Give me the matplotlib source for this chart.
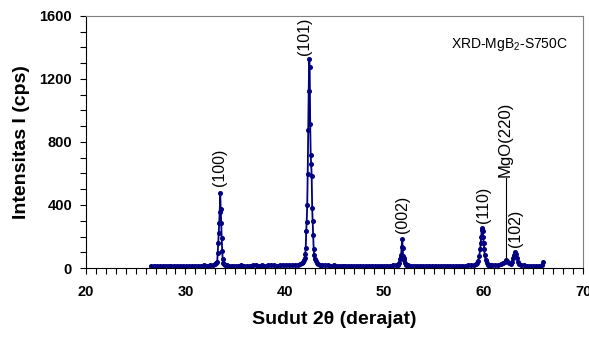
import numpy as np
import matplotlib
matplotlib.use("Agg")
import matplotlib.pyplot as plt
from matplotlib.ticker import MultipleLocator

plt.rcParams['font.family'] = ['Liberation Sans', 'DejaVu Sans']
plt.rcParams['mathtext.fontset'] = 'custom'
plt.rcParams['mathtext.rm'] = 'Liberation Sans'
plt.rcParams['mathtext.it'] = 'Liberation Sans:italic'

# XRD scan (2theta in degrees, counts in cps)
two_theta = [
    26.5, 26.8, 27.1, 27.4, 27.7, 28.0, 28.3, 28.6, 28.9, 29.2, 29.5, 29.8,
    30.1, 30.4, 30.7, 31.0, 31.3, 31.6, 31.9, 32.2, 32.5, 32.8, 33.0, 33.1,
    33.2, 33.25, 33.3, 33.35, 33.4, 33.45, 33.5, 33.55, 33.6, 33.65, 33.7,
    33.75, 33.8, 33.9, 34.0, 34.2,
    34.4, 34.7, 35.0, 35.3, 35.6, 35.9, 36.2, 36.5, 36.8, 37.1, 37.4, 37.7,
    38.0, 38.3, 38.6, 38.9, 39.2, 39.5, 39.8, 40.1, 40.4, 40.7, 41.0, 41.3,
    41.5, 41.7, 41.8,
    41.9, 42.0, 42.05, 42.1, 42.15, 42.2, 42.25, 42.3, 42.35, 42.4, 42.45,
    42.5, 42.55, 42.6, 42.65, 42.7, 42.75, 42.8, 42.85, 42.9, 42.95, 43.0,
    43.1, 43.2, 43.3, 43.5, 43.7,
    44.0, 44.3, 44.6, 44.9, 45.2, 45.5, 45.8, 46.1, 46.4, 46.7, 47.0, 47.3,
    47.6, 47.9, 48.2, 48.5, 48.8, 49.1, 49.4, 49.7, 50.0, 50.3, 50.6, 50.9,
    51.2, 51.4,
    51.5, 51.6, 51.65, 51.7, 51.75, 51.8, 51.85, 51.9, 51.95, 52.0, 52.1,
    52.2, 52.4,
    52.7, 53.0, 53.3, 53.6, 53.9, 54.2, 54.5, 54.8, 55.1, 55.4, 55.7, 56.0,
    56.3, 56.6, 56.9, 57.2, 57.5, 57.8, 58.1, 58.4, 58.7, 59.0, 59.2, 59.35,
    59.45, 59.55, 59.65, 59.7, 59.75, 59.8, 59.85, 59.9, 59.95, 60.0, 60.05,
    60.1, 60.2, 60.3, 60.4, 60.6,
    60.8, 61.1, 61.4, 61.7, 61.9, 62.1, 62.2, 62.3, 62.5, 62.7, 62.85, 62.95,
    63.05, 63.15, 63.25, 63.35, 63.45, 63.6, 63.8, 64.1, 64.4, 64.7, 65.0,
    65.3, 65.6, 65.85, 66.0,
]
counts = [
    15, 14, 16, 15, 14, 16, 15, 14, 15, 16, 14, 15,
    15, 14, 16, 15, 15, 16, 17, 16, 18, 20, 25, 30,
    40, 97, 157, 220, 284, 358, 474, 372, 284, 188, 110,
    55, 35, 25, 20, 17,
    16, 15, 16, 15, 17, 16, 15, 16, 17, 18, 16, 17,
    16, 17, 18, 17, 16, 17, 18, 18, 17, 19, 20, 22,
    25, 30, 38,
    50, 63, 90, 125, 235, 295, 400, 597, 876, 1126, 1325,
    1278, 914, 718, 660, 584, 381, 300, 210, 121, 83, 60,
    45, 35, 28, 22, 20,
    18, 17, 16, 17, 16, 15, 16, 15, 16, 15, 15, 16,
    15, 14, 15, 16, 15, 15, 16, 15, 16, 15, 16, 17,
    18, 22,
    35, 60, 70, 85, 135, 184, 125, 75, 62, 50, 32,
    22, 18,
    16, 15, 16, 15, 16, 15, 16, 15, 16, 15, 15, 16,
    15, 16, 15, 16, 15, 16, 16, 17, 18, 20, 24, 30,
    45, 75, 120, 160, 200, 240, 252, 234, 200, 160, 120,
    85, 50, 30, 22, 18,
    17, 18, 20, 25, 32, 40, 48, 44, 32, 28, 40, 62,
    85, 102, 88, 62, 40, 28, 22, 18, 16, 15, 16,
    15, 16, 17, 40,
]

# peak labels: text, x position, bottom of text (cps)
peak_labels = ['(100)', '(101)', '(002)', '(110)', '(102)']
peak_x = [33.45, 42.0, 51.8, 59.95, 63.2]
peak_y = [520, 1352, 222, 286, 133]

mgo_x = 62.2
mgo_from = 50
mgo_to = 570

fig = plt.figure(figsize=(5.89, 3.38), dpi=100)
ax = fig.add_axes([0.146, 0.207, 0.844, 0.746])

navy = '#000080'
ax.plot(two_theta, counts, color=navy, lw=1.3, marker='o', ms=2.6,
        mec=navy, mfc=navy)

for lab, x, y in zip(peak_labels, peak_x, peak_y):
    ax.text(x, y, lab, rotation=90, ha='center', va='bottom', fontsize=11.5)

ax.plot([mgo_x, mgo_x], [mgo_from, mgo_to], color='black', lw=0.8)
ax.text(mgo_x, mgo_to + 10, 'MgO(220)', rotation=90, ha='center',
        va='bottom', fontsize=12)

ax.text(0.97, 0.885, 'XRD-MgB$_2$-S750C', transform=ax.transAxes,
        ha='right', va='center', fontsize=10)

ax.set_xlim(20, 70)
ax.set_ylim(0, 1600)
ax.xaxis.set_major_locator(MultipleLocator(10))
ax.xaxis.set_minor_locator(MultipleLocator(1))
ax.yaxis.set_major_locator(MultipleLocator(400))
ax.yaxis.set_minor_locator(MultipleLocator(100))
ax.tick_params(which='both', direction='out', length=4, width=0.8)
ax.tick_params(axis='x', which='major', pad=8)
ax.tick_params(axis='y', which='major', pad=6)
for lab in ax.get_xticklabels() + ax.get_yticklabels():
    lab.set_fontsize(10.5)
    lab.set_fontweight('bold')

ax.spines['top'].set_color('#808080')
ax.spines['right'].set_color('#808080')

ax.set_xlabel('Sudut 2\u03b8 (derajat)', fontsize=14, fontweight='bold',
              labelpad=9)
ax.set_ylabel('Intensitas I (cps)', fontsize=14, fontweight='bold',
              labelpad=7)

fig.savefig('out.png', dpi=100)
